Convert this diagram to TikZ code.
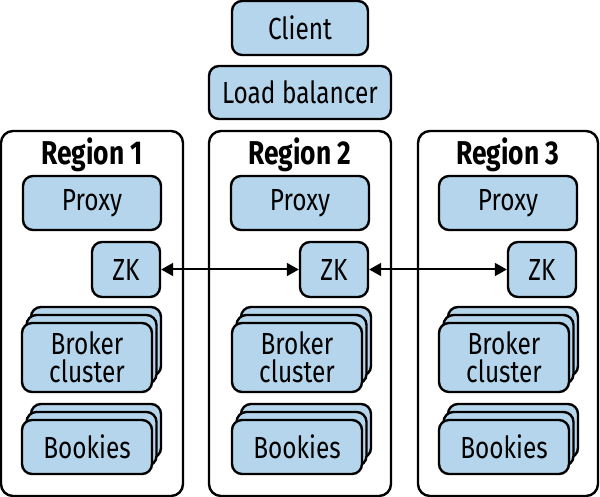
\documentclass[tikz,border=0pt]{standalone}
\usepackage{fontspec}
\setmainfont{Fira Sans}[FakeStretch=0.8]
\usetikzlibrary{shadows,arrows.meta}
\definecolor{boxblue}{HTML}{B4D5EB}
\begin{document}
\begin{tikzpicture}[x=1pt,y=-1pt,
  box/.style={draw=black,line width=2.4pt,fill=boxblue,rounded corners=10pt,
    font=\fontsize{30.5}{28}\selectfont,inner sep=0pt,align=center},
  region/.style={draw=black,line width=2.4pt,fill=white,rounded corners=12pt,inner sep=0pt},
  rtitle/.style={font=\fontsize{33}{34}\selectfont\bfseries,inner sep=0pt},
  stackbox/.style={box,double copy shadow={shadow xshift=4.5pt,shadow yshift=8pt}},
  link/.style={line width=2pt,{Triangle[length=12pt,width=13pt]}-{Triangle[length=12pt,width=13pt]}}]
\useasboundingbox (0,0) rectangle (600,497);
\node[box,minimum width=136pt,minimum height=54pt] (client) at (300,28) {Client};
\node[box,minimum width=182pt,minimum height=53pt] (lb) at (300,92.5) {Load balancer};
\foreach \i/\cx/\w/\pc/\zc/\bc in {1/92/182/92/126/87, 2/300/182/300/334/297, 3/508/180/508/542/504}{
  \node[region,minimum width=\w pt,minimum height=365pt] (r\i) at (\cx,313.5) {};
  \node[rtitle] (t\i) at (\cx,155) {Region \i};
  \node[box,minimum width=138pt,minimum height=54pt] (p\i) at (\pc,203) {Proxy};
  \node[box,minimum width=68pt,minimum height=55pt] (zk\i) at (\zc,269.5) {ZK};
  \node[stackbox,minimum width=130pt,minimum height=69pt] (b\i) at (\bc,357.5) {Broker\\cluster};
  \node[stackbox,minimum width=130pt,minimum height=54pt] (bk\i) at (\bc,447) {Bookies};
}
\draw[link] (zk1) -- (zk2);
\draw[link] (zk2) -- (zk3);
\end{tikzpicture}
\end{document}
